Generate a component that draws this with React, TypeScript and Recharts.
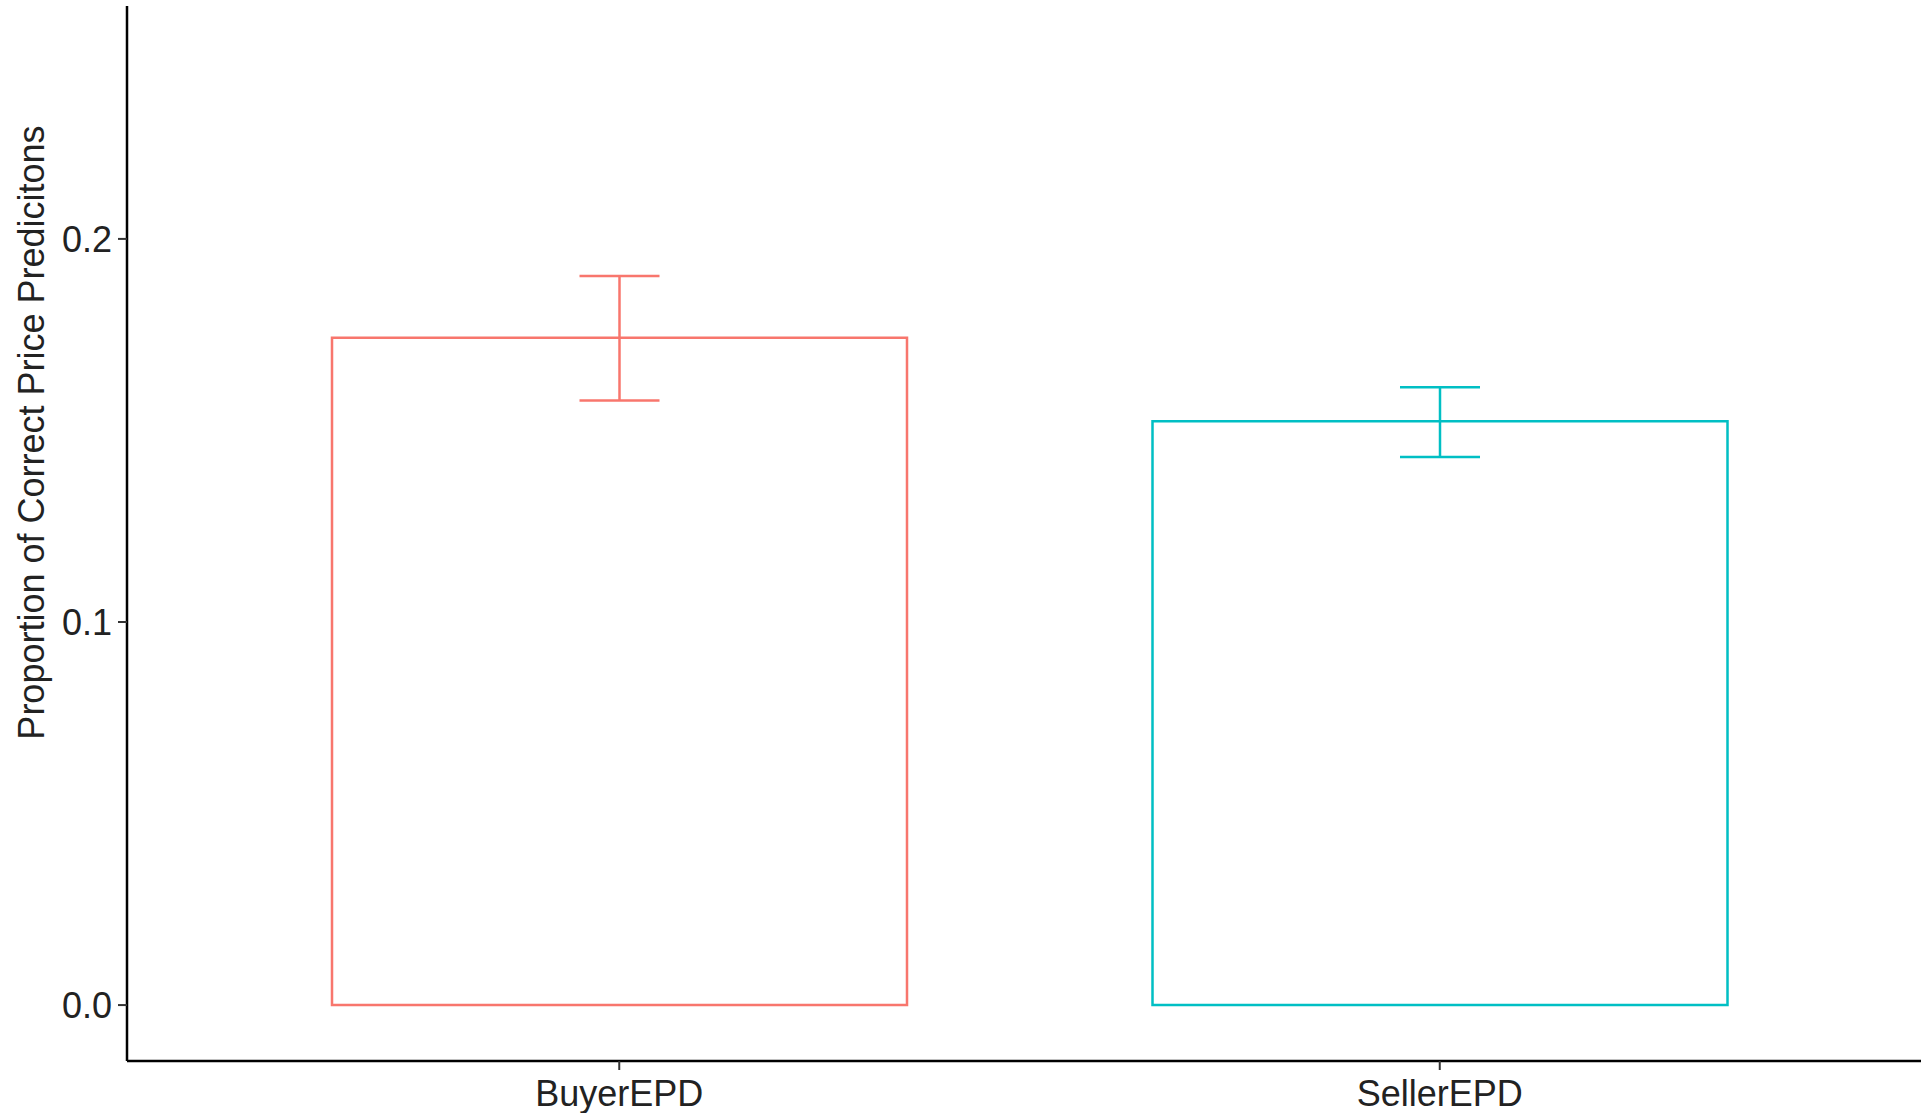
import { Bar, BarChart, Cell, ErrorBar, XAxis, YAxis } from "recharts";

const categories = ["BuyerEPD", "SellerEPD"];
const proportions = [0.1742, 0.1524];
const errLower = [0.0164, 0.0093];
const errUpper = [0.0161, 0.0089];
const colors = ["#F8766D", "#00BFC4"];
const yTicks = [0, 0.1, 0.2];

const data = categories.map((name, i) => ({
  name,
  value: proportions[i],
  [`err${i}`]: [errLower[i], errUpper[i]],
}));

const font = "'Liberation Sans', Arial, sans-serif";

function App() {
  return (
    <div style={{ position: "absolute", left: 0, top: 0, background: "#fff" }}>
      <BarChart
        width={1921}
        height={1113}
        data={data}
        margin={{ top: 6, right: 0, bottom: 0, left: 0 }}
        barSize={575}
      >
        <XAxis
          dataKey="name"
          height={52}
          padding={{ left: 82, right: 71 }}
          axisLine={{ stroke: "#000", strokeWidth: 2.5 }}
          tickLine={{ stroke: "#333", strokeWidth: 2 }}
          tickSize={9}
          tickMargin={10}
          tick={{ fill: "#222", fontSize: 36, fontFamily: font }}
        />
        <YAxis
          type="number"
          width={127}
          domain={[-0.0146, 0.2608]}
          allowDataOverflow
          ticks={yTicks}
          tickFormatter={(v: number) => v.toFixed(1)}
          axisLine={{ stroke: "#000", strokeWidth: 2.5 }}
          tickLine={{ stroke: "#333", strokeWidth: 2 }}
          tickSize={9}
          tickMargin={6}
          tick={{ fill: "#222", fontSize: 36, fontFamily: font }}
          label={{
            value: "Proportion of Correct Price Predicitons",
            angle: -90,
            position: "center",
            dx: -32,
            dy: -101,
            style: { fill: "#222", fontSize: 36, fontFamily: font },
          }}
        />
        <Bar dataKey="value" fill="#fff" strokeWidth={2.5} isAnimationActive={false}>
          {categories.map((c, i) => (
            <Cell key={c} stroke={colors[i]} fill="#fff" />
          ))}
          {categories.map((c, i) => (
            <ErrorBar
              key={`eb-${c}`}
              dataKey={`err${i}`}
              width={40}
              stroke={colors[i]}
              strokeWidth={2.5}
              isAnimationActive={false}
            />
          ))}
        </Bar>
      </BarChart>
    </div>
  );
}

export default App;
